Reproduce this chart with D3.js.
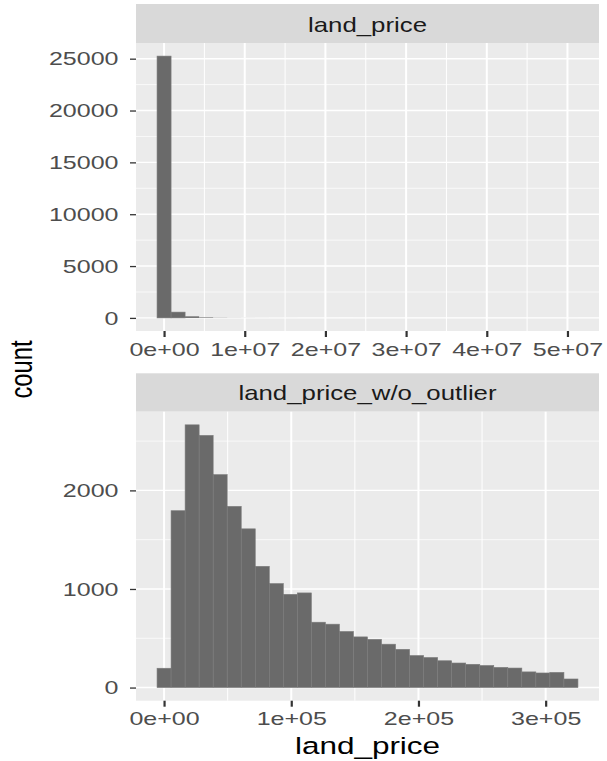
<!DOCTYPE html>
<html>
<head>
<meta charset="utf-8">
<script src="https://cdn.jsdelivr.net/npm/d3@7"></script>
<style>
  html, body { margin: 0; padding: 0; background: #ffffff; }
  svg { display: block; }
  text { font-family: "Liberation Sans", Arial, Helvetica, sans-serif; }
</style>
</head>
<body>
<div id="chart"></div>
<script>
// ---------------- data ----------------
// Panel 1: land_price (all values), bin centres in units of 1e6
const topBinCentersM = [0, 1.739, 3.478, 5.217, 6.956, 8.695, 10.434, 12.173, 13.912, 15.651,
  17.39, 19.129, 20.868, 22.607, 24.346, 26.085, 27.824, 29.563, 31.302, 33.041,
  34.78, 36.519, 38.258, 39.997, 41.736, 43.475, 45.214, 46.953, 48.692, 50.431];
const topBinWidthM = 1.739;
const topCounts = [25250, 560, 150, 55, 20, 10, 6, 4, 3, 2,
  1, 1, 1, 0, 1, 0, 0, 0, 0, 0,
  0, 0, 0, 0, 0, 0, 0, 0, 0, 1];
const topXTicks = [0, 1e7, 2e7, 3e7, 4e7, 5e7];
const topXLabels = ["0e+00", "1e+07", "2e+07", "3e+07", "4e+07", "5e+07"];
const topYTicks = [0, 5000, 10000, 15000, 20000, 25000];
const topYLabels = ["0", "5000", "10000", "15000", "20000", "25000"];

// Panel 2: land_price_w/o_outlier, bin centres in units of 1e3
const bottomBinCentersK = [0, 11.03, 22.06, 33.09, 44.12, 55.15, 66.18, 77.21, 88.24, 99.27,
  110.3, 121.33, 132.36, 143.39, 154.42, 165.45, 176.48, 187.51, 198.54, 209.57,
  220.6, 231.63, 242.66, 253.69, 264.72, 275.75, 286.78, 297.81, 308.84, 319.87];
const bottomBinWidthK = 11.03;
const bottomCounts = [196, 1794, 2665, 2558, 2160, 1838, 1610, 1230, 1055, 946,
  960, 663, 643, 569, 514, 489, 440, 388, 325, 305,
  272, 249, 236, 224, 205, 198, 159, 148, 154, 87];
const bottomXTicks = [0, 1e5, 2e5, 3e5];
const bottomXLabels = ["0e+00", "1e+05", "2e+05", "3e+05"];
const bottomYTicks = [0, 1000, 2000];
const bottomYLabels = ["0", "1000", "2000"];

const stripLabels = ["land_price", "land_price_w/o_outlier"];
const xTitle = "land_price";
const yTitle = "count";

// ---------------- layout / style ----------------
const W = 607, H = 761;
const PL = 136, PR = 599;
const TICK_SX = 1.43, STRIP_SX = 1.29, TITLE_SX = 1.34;
const COL = {
  panel: "#EBEBEB", strip: "#D9D9D9", grid: "#FFFFFF",
  bar: "#6a6a6a", barEdge: "#7c7c7c", tick: "#333333", tickText: "#4D4D4D", title: "#000000"
};

const svg = d3.select("#chart").append("svg")
  .attr("width", W).attr("height", H);

function minorBreaks(major, domain) {
  const step = major[1] - major[0];
  const ext = [major[0] - step].concat(major, [major[major.length - 1] + step]);
  const out = [];
  for (let i = 0; i < ext.length - 1; i++) {
    const m = (ext[i] + ext[i + 1]) / 2;
    if (m >= domain[0] && m <= domain[1]) out.push(m);
  }
  return out;
}

function drawPanel(cfg) {
  const bins = cfg.centers.map((c, i) => ({
    x0: (c - cfg.width / 2) * cfg.unit,
    x1: (c + cfg.width / 2) * cfg.unit,
    n: cfg.counts[i]
  }));
  const lo = d3.min(bins, d => d.x0), hi = d3.max(bins, d => d.x1);
  const xr = hi - lo;
  const x = d3.scaleLinear().domain([lo - 0.05 * xr, hi + 0.05 * xr]).range([PL, PR]);
  const maxN = d3.max(bins, d => d.n);
  const y = d3.scaleLinear().domain([-0.05 * maxN, 1.05 * maxN]).range([cfg.bottom, cfg.top]);

  const g = svg.append("g");
  // strip
  g.append("rect").attr("x", PL).attr("y", cfg.stripTop)
    .attr("width", PR - PL).attr("height", cfg.top - cfg.stripTop).attr("fill", COL.strip);
  g.append("text")
    .attr("transform", `translate(${(PL + PR) / 2},${cfg.stripBase}) scale(${STRIP_SX},1)`)
    .attr("text-anchor", "middle").attr("font-size", 20).attr("fill", "#1A1A1A")
    .text(cfg.strip);
  // panel bg
  g.append("rect").attr("x", PL).attr("y", cfg.top)
    .attr("width", PR - PL).attr("height", cfg.bottom - cfg.top).attr("fill", COL.panel);

  // grid
  const xMinor = minorBreaks(cfg.xTicks, x.domain());
  const yMinor = minorBreaks(cfg.yTicks, y.domain());
  g.selectAll(".ymn").data(yMinor).join("line")
    .attr("x1", PL).attr("x2", PR).attr("y1", d => y(d)).attr("y2", d => y(d))
    .attr("stroke", COL.grid).attr("stroke-width", 0.7);
  g.selectAll(".xmn").data(xMinor).join("line")
    .attr("y1", cfg.top).attr("y2", cfg.bottom).attr("x1", d => x(d)).attr("x2", d => x(d))
    .attr("stroke", COL.grid).attr("stroke-width", 1.0);
  g.selectAll(".ymj").data(cfg.yTicks).join("line")
    .attr("x1", PL).attr("x2", PR).attr("y1", d => y(d)).attr("y2", d => y(d))
    .attr("stroke", COL.grid).attr("stroke-width", 1.4);
  g.selectAll(".xmj").data(cfg.xTicks).join("line")
    .attr("y1", cfg.top).attr("y2", cfg.bottom).attr("x1", d => x(d)).attr("x2", d => x(d))
    .attr("stroke", COL.grid).attr("stroke-width", 2.0);

  // bars (thin separator edge only where the bar is tall enough to show it)
  g.selectAll(".bar").data(bins.filter(d => d.n > 0)).join("rect")
    .attr("x", d => x(d.x0)).attr("width", d => x(d.x1) - x(d.x0))
    .attr("y", d => y(d.n)).attr("height", d => y(0) - y(d.n))
    .attr("fill", COL.bar)
    .attr("stroke", d => (y(0) - y(d.n)) > 2 ? COL.barEdge : "none")
    .attr("stroke-width", 0.6);

  // axes
  const xa = g.append("g").attr("transform", `translate(0,${cfg.bottom})`)
    .call(d3.axisBottom(x).tickValues(cfg.xTicks).tickSize(6)
      .tickFormat((d, i) => cfg.xLabels[i]));
  xa.select(".domain").remove();
  xa.selectAll(".tick line").attr("stroke", COL.tick).attr("stroke-width", 2.2);
  xa.selectAll(".tick text").attr("y", 24.7).attr("dy", 0)
    .attr("transform", `scale(${TICK_SX},1)`)
    .attr("font-size", 17.5).attr("fill", COL.tickText).attr("font-family", null);

  const ya = g.append("g").attr("transform", `translate(${PL},0)`)
    .call(d3.axisLeft(y).tickValues(cfg.yTicks).tickSize(6)
      .tickFormat((d, i) => cfg.yLabels[i]));
  ya.select(".domain").remove();
  ya.selectAll(".tick line").attr("stroke", COL.tick).attr("stroke-width", 1.3);
  ya.selectAll(".tick text").attr("x", -17.5 / TICK_SX).attr("dy", "0.36em")
    .attr("transform", `scale(${TICK_SX},1)`)
    .attr("font-size", 17.5).attr("fill", COL.tickText).attr("font-family", null);
}

drawPanel({
  centers: topBinCentersM, width: topBinWidthM, unit: 1e6, counts: topCounts,
  xTicks: topXTicks, xLabels: topXLabels, yTicks: topYTicks, yLabels: topYLabels,
  stripTop: 4, top: 43, bottom: 331, stripBase: 31.5, strip: stripLabels[0]
});
drawPanel({
  centers: bottomBinCentersK, width: bottomBinWidthK, unit: 1e3, counts: bottomCounts,
  xTicks: bottomXTicks, xLabels: bottomXLabels, yTicks: bottomYTicks, yLabels: bottomYLabels,
  stripTop: 373.3, top: 411.7, bottom: 700.7, stripBase: 399.5, strip: stripLabels[1]
});

// titles
svg.append("text")
  .attr("transform", `translate(${(PL + PR) / 2},754) scale(${TITLE_SX},1)`)
  .attr("text-anchor", "middle").attr("font-size", 23.5).attr("fill", COL.title)
  .text(xTitle);
svg.append("text")
  .attr("transform", `translate(31.5,369.5) scale(1.36,1) rotate(-90)`)
  .attr("text-anchor", "middle").attr("font-size", 23.7).attr("fill", COL.title)
  .text(yTitle);
</script>
</body>
</html>
